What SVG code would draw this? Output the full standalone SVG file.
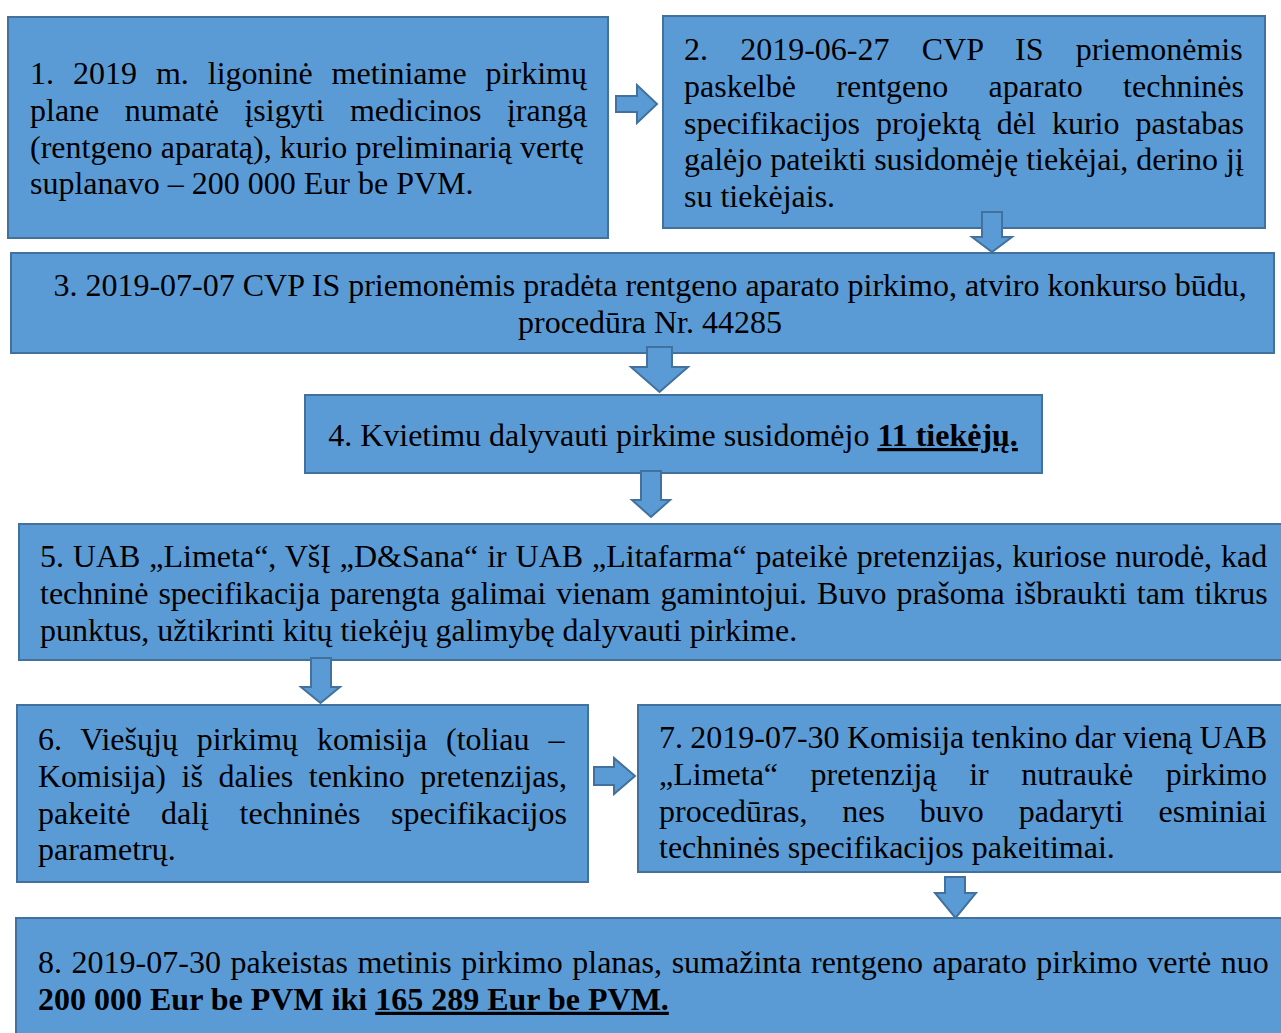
<svg xmlns="http://www.w3.org/2000/svg" width="1281" height="1033" viewBox="0 0 1281 1033">
<style>
.box{fill:#5B9BD5;stroke:#41719C;stroke-width:2}
.arr{fill:#5B9BD5;stroke:#41719C;stroke-width:2;stroke-linejoin:miter}
.t{font-family:"Liberation Serif","Times New Roman",serif;font-size:32px;fill:#000}
.b{font-weight:bold}
.u{text-decoration:underline}
.m{text-anchor:middle}
</style>
<rect width="1281" height="1033" fill="#fff"/>
<g id="node1">
<rect class="box" x="8" y="17" width="600" height="221"/>
<text class="t" x="30" y="84" style="word-spacing:10.95px">1. 2019 m. ligoninė metiniame pirkimų</text>
<text class="t" x="30" y="120.8" style="word-spacing:17.48px">plane numatė įsigyti medicinos įrangą</text>
<text class="t" x="30" y="157.6" style="word-spacing:0.1px">(rentgeno aparatą), kurio preliminarią vertę</text>
<text class="t" x="30" y="194.4">suplanavo – 200 000 Eur be PVM.</text>
</g>
<g id="node2">
<rect class="box" x="663" y="16" width="602" height="212"/>
<text class="t" x="684" y="60" style="word-spacing:24.2px">2. 2019-06-27 CVP IS priemonėmis</text>
<text class="t" x="684" y="96.8" style="word-spacing:32.34px">paskelbė rentgeno aparato techninės</text>
<text class="t" x="684" y="133.6" style="word-spacing:8px">specifikacijos projektą dėl kurio pastabas</text>
<text class="t" x="684" y="170.4">galėjo pateikti susidomėję tiekėjai, derino jį</text>
<text class="t" x="684" y="207.2">su tiekėjais.</text>
</g>
<g id="node3">
<rect class="box" x="11" y="253" width="1263" height="100"/>
<text class="t m" x="650" y="296">3. 2019-07-07 CVP IS priemonėmis pradėta rentgeno aparato pirkimo, atviro konkurso būdu,</text>
<text class="t m" x="650" y="332.8">procedūra Nr. 44285</text>
</g>
<g id="node4">
<rect class="box" x="305" y="395" width="737" height="78"/>
<text class="t m" x="673" y="446">4. Kvietimu dalyvauti pirkime susidomėjo <tspan class="b u">11 tiekėjų.</tspan></text>
</g>
<g id="node5">
<rect class="box" x="19" y="524" width="1266" height="136"/>
<text class="t" x="40" y="567" style="word-spacing:0.87px">5. UAB „Limeta“, VšĮ „D&amp;Sana“ ir UAB „Litafarma“ pateikė pretenzijas, kuriose nurodė, kad</text>
<text class="t" x="40" y="603.8" style="word-spacing:2px">techninė specifikacija parengta galimai vienam gamintojui. Buvo prašoma išbraukti tam tikrus</text>
<text class="t" x="40" y="640.6">punktus, užtikrinti kitų tiekėjų galimybę dalyvauti pirkime.</text>
</g>
<g id="node6">
<rect class="box" x="17" y="705" width="571" height="177"/>
<text class="t" x="38" y="750" style="word-spacing:10.86px">6. Viešųjų pirkimų komisija (toliau –</text>
<text class="t" x="38" y="786.8" style="word-spacing:7.6px">Komisija) iš dalies tenkino pretenzijas,</text>
<text class="t" x="38" y="823.6" style="word-spacing:22.6px">pakeitė dalį techninės specifikacijos</text>
<text class="t" x="38" y="860.4">parametrų.</text>
</g>
<g id="node7">
<rect class="box" x="638" y="705" width="647" height="167"/>
<text class="t" x="659" y="748" style="word-spacing:-0.7px">7. 2019-07-30 Komisija tenkino dar vieną UAB</text>
<text class="t" x="659" y="784.8" style="word-spacing:24.5px">„Limeta“ pretenziją ir nutraukė pirkimo</text>
<text class="t" x="659" y="821.6" style="word-spacing:26.9px">procedūras, nes buvo padaryti esminiai</text>
<text class="t" x="659" y="858.4">techninės specifikacijos pakeitimai.</text>
</g>
<g id="node8">
<rect class="box" x="16" y="918" width="1269" height="125"/>
<text class="t" x="38" y="973" style="word-spacing:1.62px">8. 2019-07-30 pakeistas metinis pirkimo planas, sumažinta rentgeno aparato pirkimo vertė nuo</text>
<text class="t b" x="38" y="1009.8">200 000 Eur be PVM iki <tspan class="u">165 289 Eur be PVM.</tspan></text>
</g>
<g id="connectors">
<polygon class="arr" points="616,96 637,96 637,85 657,104 637,123 637,112 616,112"/>
<polygon class="arr" points="982,212 1002,212 1002,237 1012,237 992,252 972,237 982,237"/>
<polygon class="arr" points="647,347 672,347 672,367 688,367 659.5,392 631,367 647,367"/>
<polygon class="arr" points="641,471 661,471 661,500 670,500 651,517 632,500 641,500"/>
<polygon class="arr" points="311,658 331,658 331,687 340,687 320.5,703 301,687 311,687"/>
<polygon class="arr" points="594,767 614,767 614,758 635,776 614,794 614,785 594,785"/>
<polygon class="arr" points="945,877 965,877 965,893 976,893 955.5,918 935,893 945,893"/>
</g>
</svg>
